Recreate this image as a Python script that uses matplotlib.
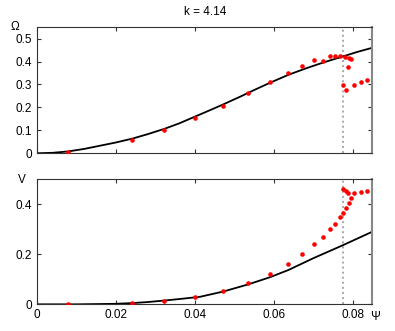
import matplotlib
matplotlib.use('Agg')
import matplotlib.pyplot as plt

plt.rcParams['font.family'] = ['Liberation Sans', 'DejaVu Sans']

# measured points (red dots)
omega_x = [0.0079, 0.0242, 0.0321, 0.0400, 0.0472, 0.0535, 0.0590, 0.0636, 0.0671, 0.0701, 0.0724,
           0.0742, 0.0756, 0.0768, 0.0781, 0.0791, 0.0795, 0.0788, 0.0775, 0.0784, 0.0803, 0.0822, 0.0836]
omega_y = [0.007, 0.058, 0.100, 0.154, 0.206, 0.261, 0.310, 0.351, 0.380, 0.406, 0.404,
           0.424, 0.424, 0.424, 0.420, 0.416, 0.410, 0.377, 0.298, 0.277, 0.297, 0.309, 0.319]

v_x = [0.0079, 0.0242, 0.0321, 0.0400, 0.0472, 0.0535, 0.0590, 0.0636, 0.0671, 0.0701, 0.0724, 0.0742,
       0.0756, 0.0767, 0.0775, 0.0782, 0.0791, 0.0795, 0.0775, 0.0784, 0.0789, 0.0803, 0.0822, 0.0836]
v_y = [0.0, 0.004, 0.013, 0.029, 0.055, 0.084, 0.1225, 0.160, 0.2025, 0.240, 0.269, 0.301,
       0.3225, 0.3505, 0.3665, 0.3865, 0.404, 0.425, 0.4625, 0.452, 0.445, 0.4466, 0.449, 0.453]

# theory curves
omega_cx = [0, 0.004, 0.0079, 0.012, 0.016, 0.020, 0.0242, 0.028, 0.0322, 0.036, 0.0398, 0.044,
            0.0472, 0.0514, 0.0552, 0.0590, 0.0637, 0.0683, 0.0726, 0.0775, 0.0812, 0.0852]
omega_cy = [0, 0.002, 0.008, 0.019, 0.033, 0.047, 0.064, 0.083, 0.106, 0.130, 0.158, 0.189,
            0.213, 0.246, 0.277, 0.307, 0.342, 0.371, 0.396, 0.422, 0.442, 0.461]

v_cx = [0, 0.010, 0.015, 0.020, 0.0242, 0.028, 0.0322, 0.036, 0.0413, 0.0472, 0.0536, 0.0590,
        0.0637, 0.0700, 0.0775, 0.0851]
v_cy = [0, 0.0, 0.001, 0.002, 0.005, 0.009, 0.015, 0.021, 0.030, 0.051, 0.080, 0.108,
        0.137, 0.184, 0.236, 0.291]

psi_c = 0.0775
x_ticks = [0, 0.02, 0.04, 0.06, 0.08]
x_labels = ['0', '0.02', '0.04', '0.06', '0.08']

fig = plt.figure(figsize=(3.95, 3.31), dpi=100)
ax1 = fig.add_axes([0.0937, 0.537, 0.849, 0.381])
ax2 = fig.add_axes([0.0937, 0.0806, 0.849, 0.378])

for ax in (ax1, ax2):
    ax.axvline(psi_c, color='#a8a8a8', ls=(0, (1, 1.6)), lw=1.4, zorder=1)
    ax.set_xlim(0, 0.085)
    ax.set_xticks(x_ticks)
    ax.tick_params(direction='in', length=3, width=0.8, top=True, right=True, labelsize=8.5, color='#333333')
    for s in ax.spines.values():
        s.set_color('#333333')
        s.set_linewidth(0.8)
    ax.spines['right'].set_color('#888888')
    ax.spines['right'].set_linewidth(1.5)

ax1.plot(omega_cx, omega_cy, color='black', lw=1.3, zorder=2)
ax1.plot(omega_x, omega_y, 'o', color='red', ms=3.3, mec='none', zorder=3)
ax1.set_ylim(0, 0.55)
ax1.set_yticks([0, 0.1, 0.2, 0.3, 0.4, 0.5])
ax1.set_yticklabels(['0', '0.1', '0.2', '0.3', '0.4', '0.5'])
ax1.set_xticklabels([])
ax1.set_title('k = 4.14', fontsize=8.5, pad=9)
ax1.text(-0.065, 1.0, 'Ω', transform=ax1.transAxes, fontsize=8.5, ha='center', va='center')

ax2.plot(v_cx, v_cy, color='black', lw=1.3, zorder=2)
ax2.plot(v_x, v_y, 'o', color='red', ms=3.3, mec='none', zorder=3)
ax2.set_ylim(0, 0.5)
ax2.set_yticks([0, 0.2, 0.4])
ax2.set_yticklabels(['0', '0.2', '0.4'])
ax2.set_xticklabels(x_labels)
ax2.text(-0.045, 0.99, 'V', transform=ax2.transAxes, fontsize=8.5, ha='center', va='center')
ax2.text(1.008, -0.105, 'Ψ', transform=ax2.transAxes, fontsize=8.5, ha='center', va='center')

fig.savefig('out.png', dpi=100)
